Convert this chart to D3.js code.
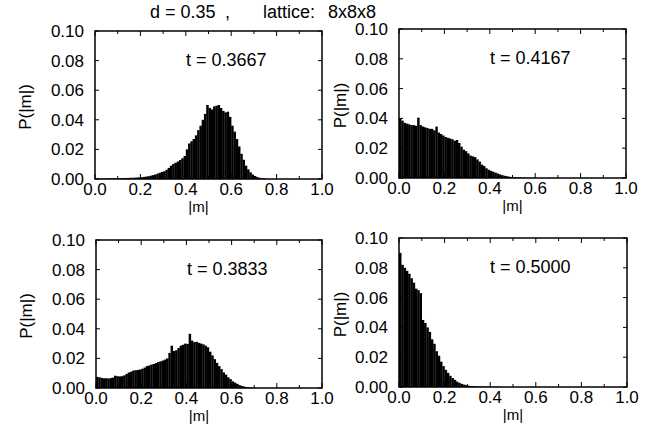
<!DOCTYPE html>
<html>
<head>
<meta charset="utf-8">
<script src="https://cdn.jsdelivr.net/npm/d3@7"></script>
<style>
  body { margin: 0; background: #fff; }
  svg text { font-family: "Liberation Sans", Arial, Helvetica, sans-serif; fill: #000; }
</style>
</head>
<body>
<svg id="chart" width="665" height="426"></svg>
<script>
'use strict';

// histogram bins of width 0.01, starting at |m| = 0
var binWidth = 0.01;
var titleParts = ['d = 0.35', ',', 'lattice:', '8x8x8'];
var temps = ['t = 0.3667', 't = 0.4167', 't = 0.3833', 't = 0.5000'];
var xTicks = [0, 0.2, 0.4, 0.6, 0.8, 1.0];
var yTicks = [0, 0.02, 0.04, 0.06, 0.08, 0.10];

var histA = [ // t = 0.3667
  0.0002,0.0002,0.0003,0.0003,0.0003,0.0004,0.0004,0.0004,0.0005,0.0005,
  0.0005,0.0006,0.0006,0.0007,0.0007,0.0008,0.0008,0.0009,0.0010,0.0011,
  0.0012,0.0014,0.0016,0.0019,0.0022,0.0026,0.0030,0.0036,0.0042,0.0048,
  0.0052,0.0062,0.0075,0.0090,0.0102,0.0110,0.0118,0.0128,0.0140,0.0155,
  0.0200,0.0240,0.0255,0.0270,0.0295,0.0330,0.0360,0.0400,0.0440,0.0500,
  0.0480,0.0470,0.0490,0.0495,0.0500,0.0480,0.0460,0.0450,0.0455,0.0420,
  0.0360,0.0320,0.0270,0.0220,0.0170,0.0130,0.0090,0.0065,0.0045,0.0030,
  0.0020,0.0013,0.0008,0.0005,0.0003,0.0001
];
var histB = [ // t = 0.4167
  0.0400,0.0385,0.0370,0.0365,0.0360,0.0355,0.0355,0.0350,0.0405,0.0355,
  0.0345,0.0340,0.0335,0.0330,0.0330,0.0320,0.0345,0.0305,0.0295,0.0285,
  0.0275,0.0270,0.0265,0.0260,0.0250,0.0255,0.0235,0.0210,0.0190,0.0180,
  0.0165,0.0150,0.0145,0.0140,0.0125,0.0110,0.0090,0.0080,0.0065,0.0055,
  0.0048,0.0042,0.0036,0.0030,0.0024,0.0019,0.0015,0.0012,0.0009,0.0007,
  0.0005,0.0004,0.0003,0.0003,0.0002,0.0002,0.0001,0.0001,0.0001,0.0001
];
var histC = [ // t = 0.3833
  0.0075,0.0072,0.0068,0.0065,0.0066,0.0064,0.0067,0.0070,0.0083,0.0080,
  0.0078,0.0080,0.0085,0.0095,0.0105,0.0110,0.0118,0.0120,0.0122,0.0125,
  0.0130,0.0138,0.0148,0.0152,0.0158,0.0162,0.0168,0.0175,0.0180,0.0185,
  0.0192,0.0200,0.0237,0.0286,0.0250,0.0255,0.0270,0.0286,0.0292,0.0300,
  0.0298,0.0366,0.0320,0.0310,0.0312,0.0305,0.0300,0.0295,0.0286,0.0275,
  0.0245,0.0220,0.0195,0.0170,0.0148,0.0128,0.0105,0.0090,0.0072,0.0060,
  0.0045,0.0036,0.0028,0.0020,0.0014,0.0010,0.0007,0.0005,0.0003,0.0002,
  0.0001
];
var histD = [ // t = 0.5000
  0.0900,0.0820,0.0800,0.0780,0.0760,0.0730,0.0700,0.0660,0.0650,0.0630,
  0.0450,0.0430,0.0400,0.0370,0.0320,0.0290,0.0240,0.0210,0.0170,0.0140,
  0.0115,0.0095,0.0075,0.0060,0.0048,0.0036,0.0028,0.0021,0.0016,0.0012,
  0.0009,0.0007,0.0006,0.0005,0.0004,0.0003,0.0003,0.0002,0.0002,0.0002,
  0.0001,0.0001,0.0001,0.0001,0.0001
];
var hists = [histA, histB, histC, histD];

// panel placement (layout only)
var panels = [
  {left: 95,  top: 31,  w: 227, h: 148, yLabelDx: -70, xLabelDx: -10},
  {left: 399, top: 29,  w: 227, h: 149, yLabelDx: -59, xLabelDx: 0},
  {left: 96,  top: 240, w: 226, h: 148, yLabelDx: -70, xLabelDx: -10},
  {left: 399, top: 238, w: 228, h: 149, yLabelDx: -59, xLabelDx: 0}
];
var titleX = [150, 225, 263, 328];

var svg = d3.select('#chart');
var fmt = d3.format('.2f');

svg.selectAll('text.title')
  .data(titleParts)
  .enter().append('text')
  .attr('class', 'title')
  .attr('x', function(d, i) { return titleX[i]; })
  .attr('y', 18)
  .attr('font-size', 18)
  .text(function(d) { return d; });

panels.forEach(function(p, k) {
  var x = d3.scaleLinear().domain([0, 1]).range([0, p.w]);
  var y = d3.scaleLinear().domain([0, 0.1]).range([p.h, 0]);
  var g = svg.append('g').attr('transform', 'translate(' + p.left + ',' + p.top + ')');

  g.selectAll('rect.bar')
    .data(hists[k])
    .enter().append('rect')
    .attr('class', 'bar')
    .attr('x', function(d, i) { return x(i * binWidth); })
    .attr('width', x(binWidth) - x(0) + 0.2)
    .attr('y', function(d) { return y(d); })
    .attr('height', function(d) { return p.h - y(d); })
    .attr('fill', '#000');

  // inward ticks on all four sides
  var xt = d3.range(0, 1.001, 0.1);
  g.selectAll('line.xb').data(xt).enter().append('line')
    .attr('x1', function(d) { return x(d); }).attr('x2', function(d) { return x(d); })
    .attr('y1', p.h).attr('y2', function(d, i) { return p.h - (i % 2 ? 3 : 5); })
    .attr('stroke', '#000');
  g.selectAll('line.xt').data(xt).enter().append('line')
    .attr('x1', function(d) { return x(d); }).attr('x2', function(d) { return x(d); })
    .attr('y1', 0).attr('y2', function(d, i) { return i % 2 ? 3 : 5; })
    .attr('stroke', '#000');
  g.selectAll('line.yl').data(yTicks).enter().append('line')
    .attr('x1', 0).attr('x2', 4)
    .attr('y1', function(d) { return y(d); }).attr('y2', function(d) { return y(d); })
    .attr('stroke', '#000');
  g.selectAll('line.yr').data(yTicks).enter().append('line')
    .attr('x1', p.w).attr('x2', p.w - 4)
    .attr('y1', function(d) { return y(d); }).attr('y2', function(d) { return y(d); })
    .attr('stroke', '#000');

  g.append('rect')
    .attr('width', p.w).attr('height', p.h)
    .attr('fill', 'none').attr('stroke', '#000').attr('stroke-width', 1.5);

  g.selectAll('text.xl').data(xTicks).enter().append('text')
    .attr('x', function(d) { return x(d); })
    .attr('y', p.h + 16)
    .attr('text-anchor', 'middle')
    .attr('font-size', 17)
    .text(function(d) { return d.toFixed(1); });

  g.selectAll('text.yl').data(yTicks).enter().append('text')
    .attr('x', -11)
    .attr('y', function(d) { return y(d) + 6; })
    .attr('text-anchor', 'end')
    .attr('font-size', 17)
    .text(function(d) { return fmt(d); });

  g.append('text')
    .attr('x', p.w / 2 + p.xLabelDx).attr('y', p.h + 33)
    .attr('text-anchor', 'middle')
    .attr('font-size', 15)
    .text('|m|');

  g.append('text')
    .attr('transform', 'translate(' + (p.yLabelDx + 6) + ',' + (p.h / 2 + 2) + ') rotate(-90)')
    .attr('text-anchor', 'middle')
    .attr('font-size', 17)
    .text('P(|m|)');

  g.append('text')
    .attr('x', 91).attr('y', 35)
    .attr('font-size', 18)
    .text(temps[k]);
});
</script>
</body>
</html>
